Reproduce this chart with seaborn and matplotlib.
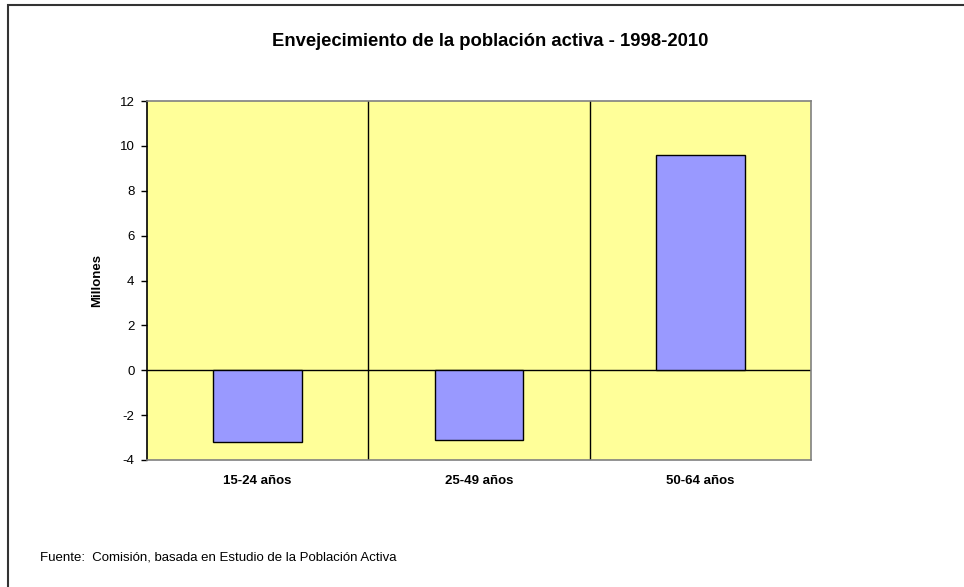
import matplotlib
matplotlib.use("Agg")
import matplotlib.pyplot as plt
import seaborn as sns
import pandas as pd
from matplotlib.patches import Rectangle

categories = ["15-24 años", "25-49 años", "50-64 años"]
values = [-3.2, -3.1, 9.6]
yticks = [-4, -2, 0, 2, 4, 6, 8, 10, 12]

sns.set_style("white")
plt.rcParams['font.family'] = ['Liberation Sans', 'DejaVu Sans']
plt.rcParams['text.color'] = 'black'
plt.rcParams['axes.labelcolor'] = 'black'
plt.rcParams['xtick.color'] = 'black'
plt.rcParams['ytick.color'] = 'black'

fig = plt.figure(figsize=(9.64, 5.87), dpi=100)
ax = fig.add_axes([147/964, 1-460/587, (811-147)/964, (460-101)/587])

df = pd.DataFrame({"cat": categories, "val": values})
sns.barplot(data=df, x="cat", y="val", color="#9999FF", edgecolor="black",
            linewidth=1, width=0.4, saturation=1, ax=ax, zorder=3)

ax.set_facecolor("#FFFF99")
ax.set_ylim(-4, 12)
ax.set_xlim(-0.5, 2.5)
ax.set_yticks(yticks)
ax.set_yticklabels([str(t) for t in yticks], fontsize=9.5)
ax.set_xticks(range(len(categories)))
ax.set_xticklabels(categories, fontsize=9.5, fontweight="bold")
ax.tick_params(axis="x", length=0, pad=11)
ax.tick_params(axis="y", length=4, width=1, direction="out", left=True, pad=5, color="black")
for x in [0.5, 1.5]:
    ax.axvline(x, color="black", lw=1, zorder=1)
ax.axhline(0, color="black", lw=1, zorder=2)
for s in ["left", "right", "top", "bottom"]:
    ax.spines[s].set_visible(True)
    ax.spines[s].set_color("#808080")
    ax.spines[s].set_linewidth(1.2)
ax.spines["left"].set_color("black")
ax.set_xlabel("")
ax.set_ylabel("Millones", fontsize=9.5, fontweight="bold", labelpad=12)

fig.text(490/964, 1-41/587, "Envejecimiento de la población activa - 1998-2010",
         ha="center", va="center", fontsize=13.3, fontweight="bold")
fig.text(40/964, 1-557/587, "Fuente:  Comisión, basada en Estudio de la Población Activa",
         ha="left", va="center", fontsize=9.5)

fig.patches.append(Rectangle((8/964, -0.1), 1.2, 1 - 5/587 + 0.1, transform=fig.transFigure,
                             fill=False, edgecolor="#333333", lw=1.5))

fig.savefig("out.png", dpi=100)
